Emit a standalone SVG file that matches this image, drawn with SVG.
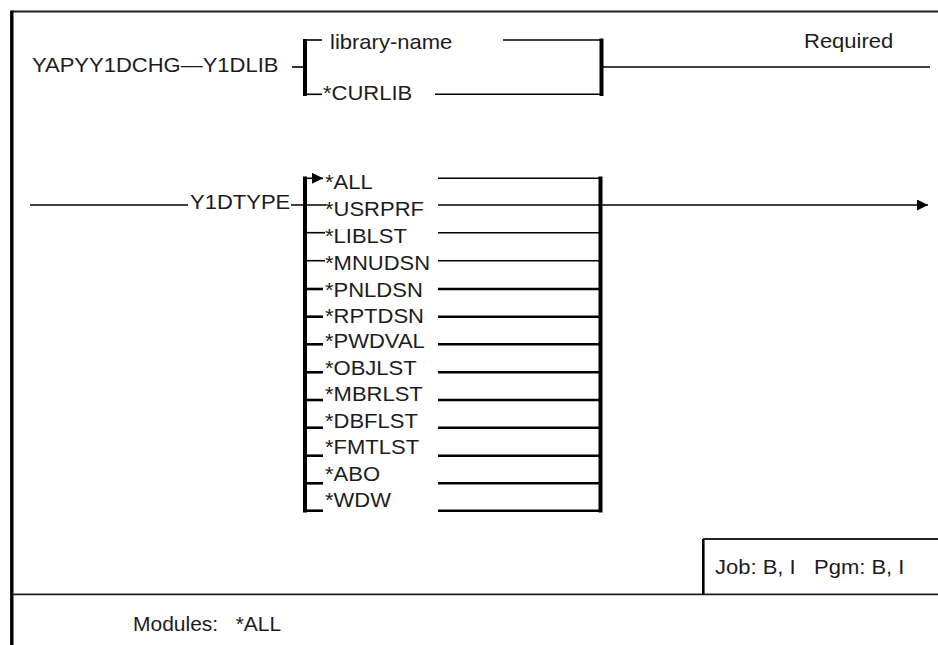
<svg xmlns="http://www.w3.org/2000/svg" width="938" height="645" viewBox="0 0 938 645">
<style>
text{font-family:"Liberation Sans",Arial,sans-serif;font-size:20px;fill:#1c1c1c;white-space:pre}
.th{stroke:#000;stroke-width:1.6;fill:none}
.tk{stroke:#000;stroke-width:2.6;fill:none}
.br{stroke:#000;stroke-width:4;fill:none}
.fr{stroke:#222;stroke-width:1.8;fill:none}
</style>
<defs>
<marker id="arr" viewBox="0 0 10 10" refX="10" refY="5" markerWidth="11" markerHeight="11" markerUnits="userSpaceOnUse" orient="auto">
<path d="M0,0 L10,5 L0,10 z" fill="#000"/>
</marker>
</defs>
<rect width="938" height="645" fill="#fff"/>
<g id="frame">
<line class="fr" x1="12" y1="11.5" x2="938" y2="11.5"/>
<line x1="11.8" y1="10.5" x2="11.8" y2="645" stroke="#000" stroke-width="3.4"/>
<line class="fr" x1="12" y1="594.3" x2="938" y2="594.3"/>
</g>
<g id="connectors">
<line class="th" x1="292" y1="67" x2="305" y2="67"/>
<line class="br" x1="305" y1="39" x2="305" y2="96"/>
<line class="th" x1="305" y1="40" x2="322" y2="40"/>
<line class="th" x1="305" y1="94.3" x2="322" y2="94.3"/>
<line class="th" x1="503" y1="40" x2="601" y2="40"/>
<line class="th" x1="435" y1="94.3" x2="601" y2="94.3"/>
<line class="br" x1="601.5" y1="38.5" x2="601.5" y2="96"/>
<line class="th" x1="602" y1="67" x2="930" y2="67"/>
<line class="th" x1="30" y1="205" x2="188" y2="205"/>
<line class="th" x1="291" y1="205" x2="326" y2="205"/>
<line class="br" x1="305" y1="176.5" x2="305" y2="512.5"/>
<line class="br" x1="600.5" y1="176.5" x2="600.5" y2="512.5"/>
<line class="th" x1="305" y1="178.3" x2="323" y2="178.3" marker-end="url(#arr)"/>
<line class="th" x1="305" y1="232.7" x2="325" y2="232.7"/>
<line class="th" x1="305" y1="260.7" x2="325" y2="260.7"/>
<line class="tk" x1="305" y1="289" x2="323" y2="289"/>
<line class="tk" x1="305" y1="316.7" x2="323" y2="316.7"/>
<line class="tk" x1="305" y1="344.3" x2="323" y2="344.3"/>
<line class="tk" x1="305" y1="372.3" x2="323" y2="372.3"/>
<line class="tk" x1="305" y1="400" x2="323" y2="400"/>
<line class="tk" x1="305" y1="427.7" x2="323" y2="427.7"/>
<line class="tk" x1="305" y1="455.7" x2="323" y2="455.7"/>
<line class="tk" x1="305" y1="483.3" x2="323" y2="483.3"/>
<line class="tk" x1="305" y1="510.7" x2="323" y2="510.7"/>
<line class="th" x1="438" y1="178.3" x2="600" y2="178.3"/>
<line class="th" x1="438" y1="205" x2="600" y2="205"/>
<line class="th" x1="438" y1="232.7" x2="600" y2="232.7"/>
<line class="th" x1="438" y1="260.7" x2="600" y2="260.7"/>
<line class="tk" x1="438" y1="289" x2="600" y2="289"/>
<line class="tk" x1="438" y1="316.7" x2="600" y2="316.7"/>
<line class="tk" x1="438" y1="344.3" x2="600" y2="344.3"/>
<line class="tk" x1="438" y1="372.3" x2="600" y2="372.3"/>
<line class="tk" x1="438" y1="400" x2="600" y2="400"/>
<line class="tk" x1="438" y1="427.7" x2="600" y2="427.7"/>
<line class="tk" x1="438" y1="455.7" x2="600" y2="455.7"/>
<line class="tk" x1="438" y1="483.3" x2="600" y2="483.3"/>
<line class="tk" x1="438" y1="510.7" x2="600" y2="510.7"/>
<line class="th" x1="600" y1="205" x2="928" y2="205" marker-end="url(#arr)"/>
</g>
<g id="cmd"><text transform="matrix(1.1 0 0 1 32 72)">YAPYY1DCHG—Y1DLIB</text></g>
<g id="libname"><text transform="matrix(1.1 0 0 1 330 49)">library-name</text></g>
<g id="curlib"><text transform="matrix(1.1 0 0 1 323 100)">*CURLIB</text></g>
<g id="required"><text transform="matrix(1.1 0 0 1 804 48)">Required</text></g>
<g id="y1dtype"><text transform="matrix(1.1 0 0 1 190 208.5)">Y1DTYPE</text></g>
<g id="opt-all"><text transform="matrix(1.1 0 0 1 325 189)">*ALL</text></g>
<g id="opt-usrprf"><text transform="matrix(1.1 0 0 1 325 215.5)">*USRPRF</text></g>
<g id="opt-liblst"><text transform="matrix(1.1 0 0 1 325 242.5)">*LIBLST</text></g>
<g id="opt-mnudsn"><text transform="matrix(1.1 0 0 1 325 270)">*MNUDSN</text></g>
<g id="opt-pnldsn"><text transform="matrix(1.1 0 0 1 325 296.5)">*PNLDSN</text></g>
<g id="opt-rptdsn"><text transform="matrix(1.1 0 0 1 325 322.5)">*RPTDSN</text></g>
<g id="opt-pwdval"><text transform="matrix(1.1 0 0 1 325 348)">*PWDVAL</text></g>
<g id="opt-objlst"><text transform="matrix(1.1 0 0 1 325 374.5)">*OBJLST</text></g>
<g id="opt-mbrlst"><text transform="matrix(1.1 0 0 1 325 401)">*MBRLST</text></g>
<g id="opt-dbflst"><text transform="matrix(1.1 0 0 1 325 427.5)">*DBFLST</text></g>
<g id="opt-fmtlst"><text transform="matrix(1.1 0 0 1 325 454)">*FMTLST</text></g>
<g id="opt-abo"><text transform="matrix(1.1 0 0 1 325 480.5)">*ABO</text></g>
<g id="opt-wdw"><text transform="matrix(1.1 0 0 1 325 506.5)">*WDW</text></g>
<g id="jobbox">
<line x1="703.3" y1="539" x2="703.3" y2="594.3" stroke="#000" stroke-width="2.6"/>
<line class="fr" x1="703" y1="539" x2="938" y2="539"/>
<text transform="matrix(1.1 0 0 1 715 573.5)">Job: B, I   Pgm: B, I</text>
</g>
<g id="modules"><text transform="matrix(1.05 0 0 1 133 630.5)">Modules:   *ALL</text></g>
</svg>
